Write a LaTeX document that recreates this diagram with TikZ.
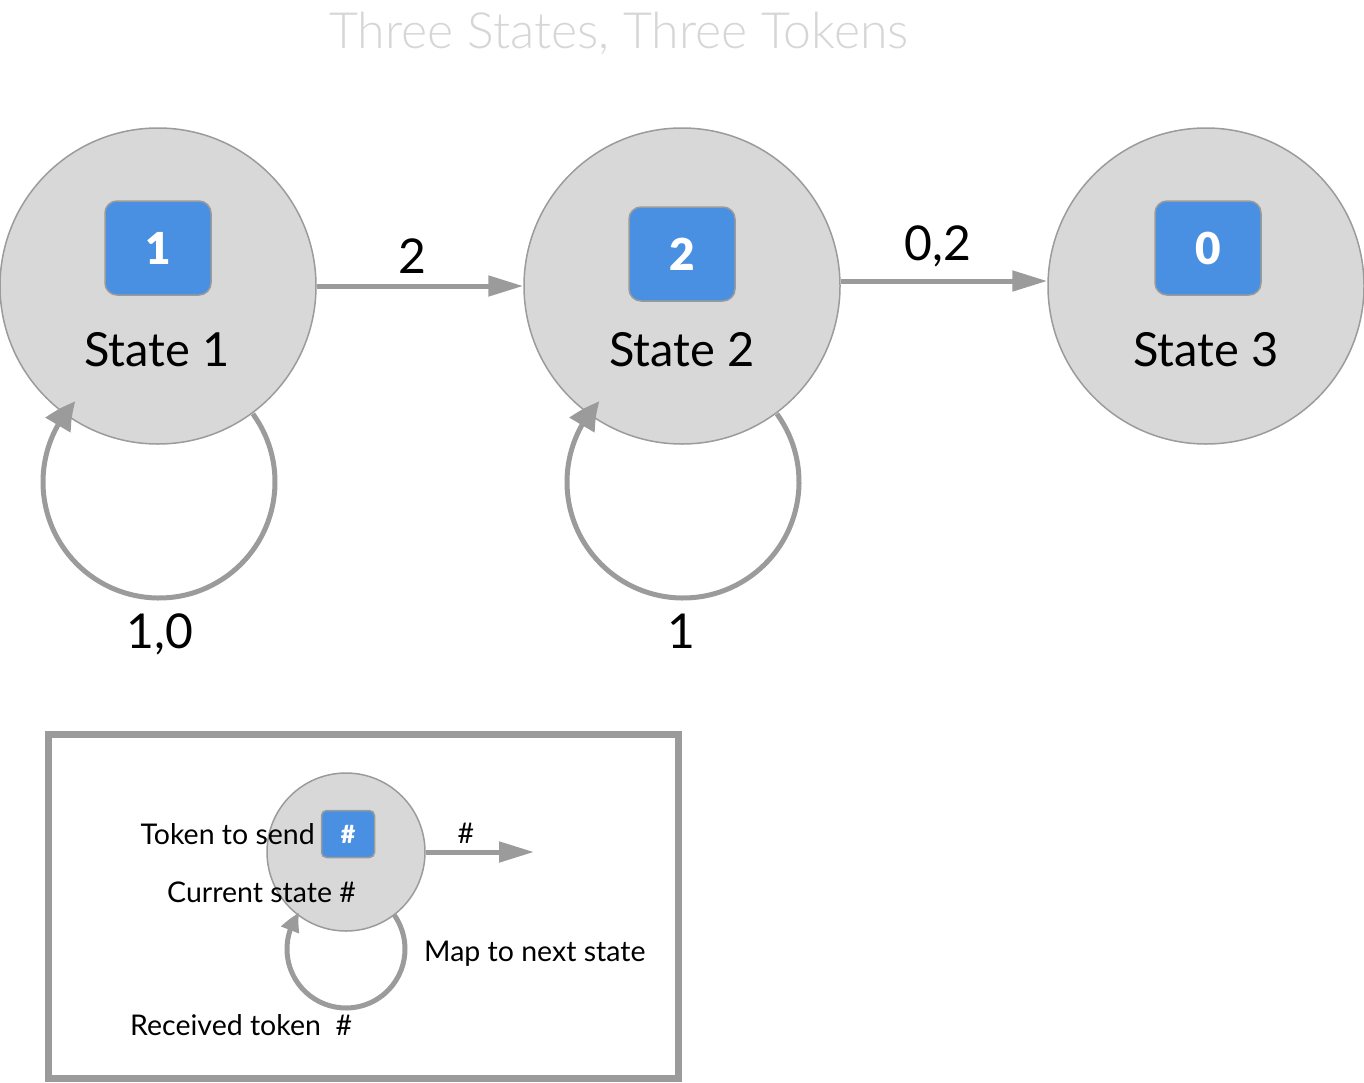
\documentclass[tikz,border=0pt]{standalone}
\usepackage{fontspec}
\setmainfont{Lato}
\newfontfamily\lightfont{Lato Light}
\newfontfamily\heavyfont{Lato Black}
\usetikzlibrary{arrows.meta,bending}
\definecolor{cfill}{HTML}{D8D8D8}
\definecolor{cline}{HTML}{9B9B9B}
\definecolor{tokblue}{HTML}{4A90E2}
\definecolor{titlegray}{HTML}{D6D6D6}
\begin{document}
\begin{tikzpicture}[x=1pt,y=1pt,
  state/.style={circle, draw=cline, line width=1.5pt, fill=cfill, minimum size=316pt, inner sep=0pt},
  token/.style={rounded corners=12pt, draw=cline, line width=1.5pt, fill=tokblue, text=white,
    font=\heavyfont\fontsize{44}{50}\selectfont, minimum width=106pt, minimum height=94pt, inner sep=0pt},
  stxt/.style={anchor=base, font=\fontsize{47}{56}\selectfont, inner sep=0pt},
  etxt/.style={anchor=base, font=\fontsize{48}{56}\selectfont, inner sep=0pt},
  arr/.style={draw=cline, line width=5pt, -{Triangle[length=35pt,width=20pt]}},
  loopline/.style={draw=cline, line width=5pt, -{Triangle[bend,length=30pt,width=28pt]}},
  smallloop/.style={draw=cline, line width=5pt, -{Triangle[bend,length=20pt,width=18pt]}},
  legtxt/.style={font=\fontsize{28.5}{34}\selectfont, inner sep=0pt},
]
\useasboundingbox (0,0) rectangle (1364,-1082);

% title
\node[anchor=base, font=\lightfont\fontsize{50}{58}\selectfont, text=titlegray, inner sep=0pt] (title) at (619,-48) {Three States, Three Tokens};

% states
\node[state] (s1) at (158,-286) {};
\node[state] (s2) at (682,-286) {};
\node[state] (s3) at (1206,-286) {};

\node[token] (t1) at (158,-248) {1};
\node[token] (t2) at (682,-254) {2};
\node[token] (t3) at (1208,-248) {0};

\node[stxt] (n1) at (157,-366) {State 1};
\node[stxt] (n2) at (682,-366) {State 2};
\node[stxt] (n3) at (1206,-366) {State 3};

% transitions
\draw[arr] (s1.east) -- (s2.west);
\draw[arr] ([yshift=5pt]s2.east) -- ([yshift=5pt]s3.west);
\node[etxt] (e12) at (412,-273) {2};
\node[etxt] (e23) at (938,-260) {0,2};

% self loops
\coordinate (c1) at (159,-482);
\coordinate (c2) at (683,-482);
\draw[loopline] ([shift={(36:116)}]c1) arc[start angle=36, end angle=-224, radius=116];
\draw[loopline] ([shift={(36:116)}]c2) arc[start angle=36, end angle=-224, radius=116];
\node[etxt] (l1) at (160,-648) {1,0};
\node[etxt] (l2) at (681,-648) {1};

% legend
\node[draw=cline, line width=7pt, minimum width=630pt, minimum height=344pt, inner sep=0pt] (legend) at (363,-906) {};
\node[circle, draw=cline, line width=1.5pt, fill=cfill, minimum size=158pt, inner sep=0pt] (lc) at (346,-852) {};
\node[rounded corners=5pt, draw=cline, line width=1.5pt, fill=tokblue, text=white,
  font=\heavyfont\fontsize{25}{30}\selectfont, minimum width=53pt, minimum height=47pt, inner sep=0pt] (lt) at (348,-834) {\#};
\coordinate (la) at (534,-852);
\draw[arr] (lc.east) -- (la);
\node[legtxt, anchor=base] (lh) at (466,-843) {\#};
\node[legtxt, anchor=base east] (ltx1) at (315,-844) {Token to send};
\node[legtxt, anchor=base west] (ltx2) at (167,-902) {Current state \#};
\node[legtxt, anchor=base west] (ltx3) at (424,-961) {Map to next state};
\node[legtxt, anchor=base west] (ltx4) at (130,-1035) {Received token\ \ \#};
\coordinate (lcc) at (346,-949);
\draw[smallloop] ([shift={(35:59)}]lcc) arc[start angle=35, end angle=-218, radius=59];
\end{tikzpicture}
\end{document}
